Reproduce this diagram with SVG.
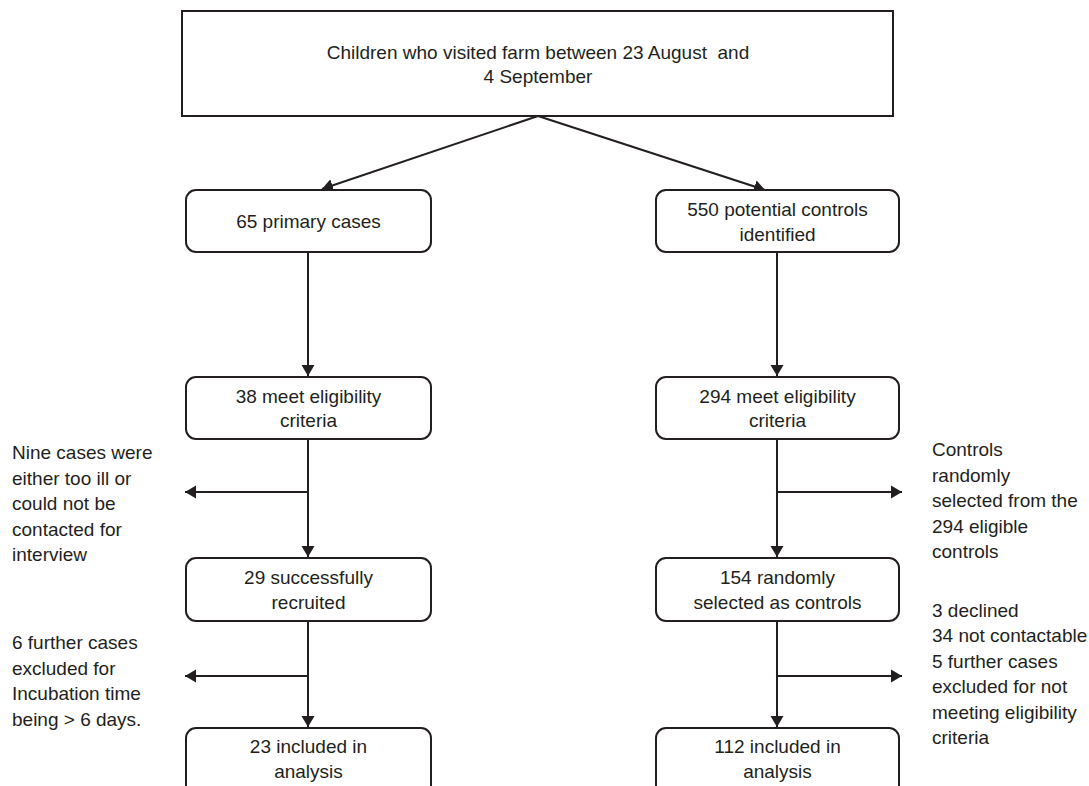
<svg xmlns="http://www.w3.org/2000/svg" width="1089" height="786" viewBox="0 0 1089 786">
<style>
text{font-family:"Liberation Sans",Arial,sans-serif;font-size:19px;fill:#231f20}
.c{text-anchor:middle}
.box{fill:#fff;stroke:#231f20;stroke-width:2}
.ln{fill:none;stroke:#231f20;stroke-width:2;marker-end:url(#ah)}
</style>
<defs>
<marker id="ah" markerUnits="userSpaceOnUse" markerWidth="12" markerHeight="14" viewBox="0 0 12 14" refX="11" refY="7" orient="auto">
<path d="M0,0.5 L11,7 L0,13.5 z" fill="#231f20"/>
</marker>
</defs>
<rect width="1089" height="786" fill="#fff"/>
<g id="connectors">
<line class="ln" x1="538" y1="116" x2="322" y2="189"/>
<line class="ln" x1="538" y1="116" x2="765" y2="190"/>
<line class="ln" x1="308" y1="252" x2="308" y2="376"/>
<line class="ln" x1="308" y1="439" x2="308" y2="557"/>
<line class="ln" x1="308" y1="621" x2="308" y2="727"/>
<line class="ln" x1="308" y1="492" x2="185" y2="492"/>
<line class="ln" x1="308" y1="676" x2="185" y2="676"/>
<line class="ln" x1="777" y1="252" x2="777" y2="376"/>
<line class="ln" x1="777" y1="439" x2="777" y2="557"/>
<line class="ln" x1="777" y1="621" x2="777" y2="727"/>
<line class="ln" x1="777" y1="492" x2="902" y2="492"/>
<line class="ln" x1="777" y1="676" x2="902" y2="676"/>
</g>
<g id="top">
<rect class="box" x="182" y="11" width="711" height="105"/>
<text class="c" x="538" y="59" xml:space="preserve">Children who visited farm between 23 August  and</text>
<text class="c" x="538" y="83">4 September</text>
</g>
<g id="cases65">
<rect class="box" x="186" y="190" width="245" height="62" rx="10"/>
<text class="c" x="308.5" y="228">65 primary cases</text>
</g>
<g id="controls550">
<rect class="box" x="656" y="190" width="243" height="62" rx="10"/>
<text class="c" x="777.5" y="216">550 potential controls</text>
<text class="c" x="777.5" y="241">identified</text>
</g>
<g id="cases38">
<rect class="box" x="186" y="377" width="245" height="62" rx="10"/>
<text class="c" x="308.5" y="403">38 meet eligibility</text>
<text class="c" x="308.5" y="427">criteria</text>
</g>
<g id="controls294">
<rect class="box" x="656" y="377" width="243" height="62" rx="10"/>
<text class="c" x="777.5" y="403">294 meet eligibility</text>
<text class="c" x="777.5" y="427">criteria</text>
</g>
<g id="cases29">
<rect class="box" x="186" y="558" width="245" height="63" rx="10"/>
<text class="c" x="308.5" y="584">29 successfully</text>
<text class="c" x="308.5" y="609">recruited</text>
</g>
<g id="controls154">
<rect class="box" x="656" y="558" width="243" height="63" rx="10"/>
<text class="c" x="777.5" y="584">154 randomly</text>
<text class="c" x="777.5" y="609">selected as controls</text>
</g>
<g id="cases23">
<rect class="box" x="186" y="728" width="245" height="70" rx="10"/>
<text class="c" x="308.5" y="753">23 included in</text>
<text class="c" x="308.5" y="778">analysis</text>
</g>
<g id="controls112">
<rect class="box" x="656" y="728" width="243" height="70" rx="10"/>
<text class="c" x="777.5" y="753">112 included in</text>
<text class="c" x="777.5" y="778">analysis</text>
</g>
<g id="note-nine">
<text x="12" y="459">Nine cases were</text>
<text x="12" y="485">either too ill or</text>
<text x="12" y="510">could not be</text>
<text x="12" y="536">contacted for</text>
<text x="12" y="561">interview</text>
</g>
<g id="note-six">
<text x="12" y="649">6 further cases</text>
<text x="12" y="675">excluded for</text>
<text x="12" y="700">Incubation time</text>
<text x="12" y="726">being &gt; 6 days.</text>
</g>
<g id="note-controls">
<text x="932" y="456">Controls</text>
<text x="932" y="482">randomly</text>
<text x="932" y="507">selected from the</text>
<text x="932" y="533">294 eligible</text>
<text x="932" y="558">controls</text>
</g>
<g id="note-declined">
<text x="932" y="617">3 declined</text>
<text x="932" y="642">34 not contactable</text>
<text x="932" y="668">5 further cases</text>
<text x="932" y="693">excluded for not</text>
<text x="932" y="719">meeting eligibility</text>
<text x="932" y="744">criteria</text>
</g>
</svg>
